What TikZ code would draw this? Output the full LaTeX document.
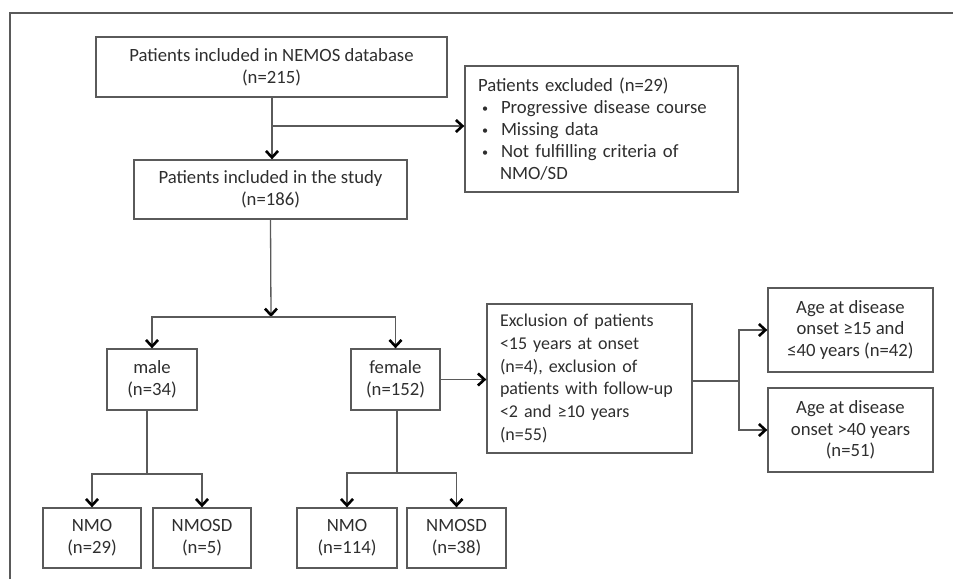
\documentclass[tikz,border=0pt]{standalone}
\usepackage{fontspec}
\setmainfont{Carlito}
\usetikzlibrary{arrows.meta}
\definecolor{boxgray}{HTML}{5A5A5A}
\definecolor{txtgray}{HTML}{2E2E2E}
\newcommand{\bul}{\hspace*{4pt}\makebox[19pt][l]{\raisebox{1pt}{\scalebox{0.65}{•}}}}
\tikzset{
  box/.style={draw=boxgray, line width=1.3pt, inner sep=0pt, align=center,
    text=txtgray, font=\fontsize{18.7}{22}\selectfont},
  lbox/.style={box, align=left, inner xsep=13pt},
  conn/.style={draw=boxgray, line width=1.3pt},
  arr/.style={conn, -{Straight Barb[length=6.5pt,width=12pt,line width=2.6pt,color=black]}},
}
\begin{document}
\begin{tikzpicture}[x=1pt,y=-1pt]
\useasboundingbox (0,0) rectangle (953,579);
\draw[draw=boxgray, line width=1.2pt] (10,579) -- (10,13) -- (953,13);

\node[box, minimum width=351pt, minimum height=60pt] (b1) at (271.5,67)
  {Patients included in NEMOS database\\(n=215)};
\node[lbox, minimum width=273pt, minimum height=126pt, text width=247pt] (excl) at (601.5,129)
  {Patients excluded (n=29)\\
   \bul Progressive disease course\\
   \bul Missing data\\
   \bul Not fulfilling criteria of\\
   \hspace*{22pt}NMO/SD};
\node[box, minimum width=273pt, minimum height=59pt] (b2) at (270.5,189.5)
  {Patients included in the study\\(n=186)};
\node[box, minimum width=90pt, minimum height=61pt] (male) at (152,379.5)
  {male\\(n=34)};
\node[box, minimum width=89pt, minimum height=61pt] (female) at (395.5,379.5)
  {female\\(n=152)};
\node[lbox, minimum width=205pt, minimum height=149pt, text width=179pt,
      font=\fontsize{18}{22.8}\selectfont] (excl2) at (589.5,378.5)
  {\mbox{Exclusion of patients}\\\mbox{<15 years at onset}\\\mbox{(n=4), exclusion of}\\\mbox{patients with follow-up}\\\mbox{<2 and ≥10 years}\\\mbox{(n=55)}};
\node[box, minimum width=165pt, minimum height=84pt, font=\fontsize{18.7}{21.5}\selectfont] (age1) at (850.5,330)
  {Age at disease\\onset ≥15 and\\≤40 years (n=42)};
\node[box, minimum width=165pt, minimum height=84pt, font=\fontsize{18.7}{21.5}\selectfont] (age2) at (850.5,430)
  {Age at disease\\onset >40 years\\(n=51)};
\node[box, minimum width=98pt, minimum height=60pt] (nmo1) at (92,538)
  {NMO\\(n=29)};
\node[box, minimum width=98pt, minimum height=60pt] (nmosd1) at (202,538)
  {NMOSD\\(n=5)};
\node[box, minimum width=100pt, minimum height=60pt] (nmo2) at (347,538)
  {NMO\\(n=114)};
\node[box, minimum width=99pt, minimum height=60pt] (nmosd2) at (456.5,538)
  {NMOSD\\(n=38)};

% top flow
\coordinate (j1) at (272,126);
\draw[arr] ([xshift=0.5pt]b1.south) -- ([xshift=1.5pt]b2.north);
\draw[arr] (j1) -- (j1 -| excl.west);

% split by sex
\coordinate (j2) at (271,317);
\draw[arr] (b2.south) -- (j2);
\draw[arr] (j2) -| (male.north);
\draw[arr] (j2) -| (female.north);

% female exclusion and age groups
\draw[arr] (female.east) -- (female.east -| excl2.west);
\coordinate (j3) at (739,381);
\draw[conn] (j3 -| excl2.east) -- (j3);
\draw[arr] (j3) |- (age1.west);
\draw[arr] (j3) |- (age2.west);

% male split
\coordinate (m0) at (147,410);
\coordinate (m1) at (147,474);
\draw[conn] (m0) -- (m1);
\draw[arr] (m1) -| (nmo1.north);
\draw[arr] (m1) -| (nmosd1.north);

% female split
\coordinate (f0) at (397,410);
\coordinate (f1) at (397,473);
\draw[conn] (f0) -- (f1);
\draw[arr] (f1) -| (nmo2.north);
\draw[arr] (f1) -| (nmosd2.north);
\end{tikzpicture}
\end{document}
